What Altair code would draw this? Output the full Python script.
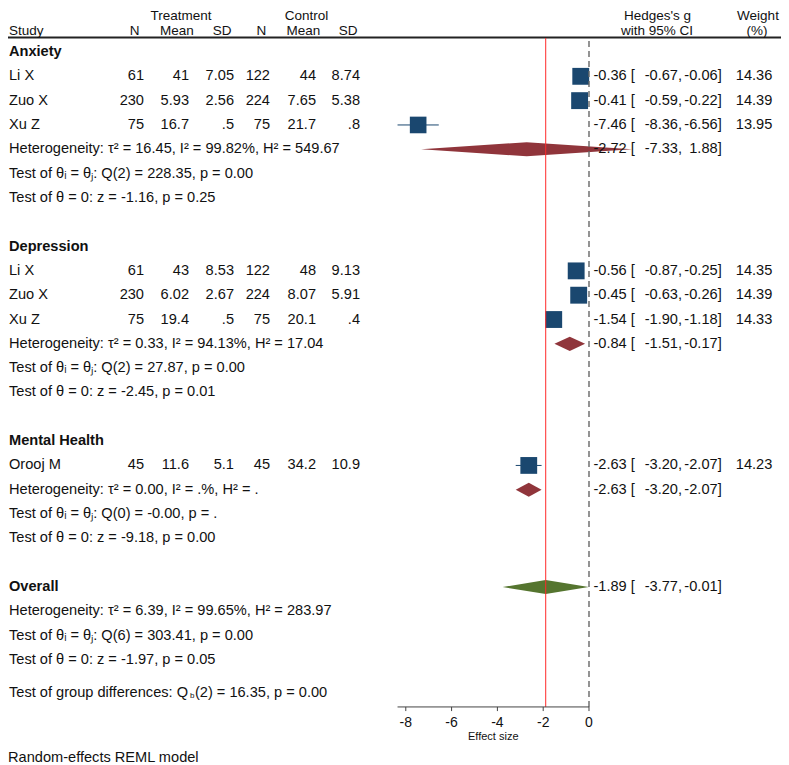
import altair as alt
import pandas as pd

FONT = "Liberation Sans"
FS = 14.6
TXT = "#111111"
NAVY = "#1a476f"
MAROON = "#90353b"
GREEN = "#55752f"
RED = "#ff2a2a"
W, H = 773, 757

# ---------------- data ----------------
study = ["Li X", "Zuo X", "Xu Z", "Li X", "Zuo X", "Xu Z", "Orooj M"]
study_row = [1, 2, 3, 9, 10, 11, 17]
t_n = ["61", "230", "75", "61", "230", "75", "45"]
t_mean = ["41", "5.93", "16.7", "43", "6.02", "19.4", "11.6"]
t_sd = ["7.05", "2.56", ".5", "8.53", "2.67", ".5", "5.1"]
c_n = ["122", "224", "75", "122", "224", "75", "45"]
c_mean = ["44", "7.65", "21.7", "48", "8.07", "20.1", "34.2"]
c_sd = ["8.74", "5.38", ".8", "9.13", "5.91", ".4", "10.9"]
es = [-0.36, -0.41, -7.46, -0.56, -0.45, -1.54, -2.63]
lo = [-0.67, -0.59, -8.36, -0.87, -0.63, -1.90, -3.20]
hi = [-0.06, -0.22, -6.56, -0.25, -0.26, -1.18, -2.07]
weight = [14.36, 14.39, 13.95, 14.35, 14.39, 14.33, 14.23]

pool_name = ["Anxiety", "Depression", "Mental Health", "Overall"]
pool_label_row = [0, 8, 16, 22]
pool_row = [4, 12, 18, 22]
pool_es = [-2.72, -0.84, -2.63, -1.89]
pool_lo = [-7.33, -1.51, -3.20, -3.77]
pool_hi = [1.88, -0.17, -2.07, -0.01]
pool_kind = ["sub", "sub", "sub", "overall"]

stat_text = [
    "Heterogeneity: τ² = 16.45, I² = 99.82%, H² = 549.67",
    "Test of θᵢ = θⱼ: Q(2) = 228.35, p = 0.00",
    "Test of θ = 0: z = -1.16, p = 0.25",
    "Heterogeneity: τ² = 0.33, I² = 94.13%, H² = 17.04",
    "Test of θᵢ = θⱼ: Q(2) = 27.87, p = 0.00",
    "Test of θ = 0: z = -2.45, p = 0.01",
    "Heterogeneity: τ² = 0.00, I² = .%, H² = .",
    "Test of θᵢ = θⱼ: Q(0) = -0.00, p = .",
    "Test of θ = 0: z = -9.18, p = 0.00",
    "Heterogeneity: τ² = 6.39, I² = 99.65%, H² = 283.97",
    "Test of θᵢ = θⱼ: Q(6) = 303.41, p = 0.00",
    "Test of θ = 0: z = -1.97, p = 0.05",
]
stat_row = [4, 5, 6, 12, 13, 14, 18, 19, 20, 23, 24, 25]

groupdiff_row = 26.35
groupdiff_a = "Test of group differences: Q"
groupdiff_b = "b"
groupdiff_c = "(2) = 16.35, p = 0.00"
footnote = "Random-effects REML model"

axis_ticks = [-8, -6, -4, -2, 0]
axis_title = "Effect size"
overall_es = -1.89

# Arial / Liberation Sans advance widths (em) for placing the subscript
AW = {" ": .278, "T": .611, "e": .556, "s": .5, "t": .278, "o": .556, "f": .278, "g": .556,
      "r": .333, "u": .556, "p": .556, "d": .556, "i": .222, "n": .556, "c": .5, ":": .278,
      "Q": .778, "b": .556}
def tw(s, fs):
    return sum(AW.get(ch, .556) for ch in s) * fs

# layout (rows)
ROW_PX = 24.32
ROW0 = 44.0
AXIS_ROW = 26.93
TICK_END = 27.10
TICKLAB_ROW = 27.59
TITLE_ROW = 28.17
TOP_ROW = -0.576
DASH_TOP = -0.45
FOOT_ROW = 29.03
HALF_H = 0.29

xs = alt.Scale(domain=[-25.37, 8.384], nice=False, zero=False)
ys = alt.Scale(domain=[-ROW0 / ROW_PX, (H - ROW0) / ROW_PX], reverse=True, nice=False, zero=False)

def X(f):
    return alt.X(f, type="quantitative", scale=xs, axis=None)

def Y(f):
    return alt.Y(f, type="quantitative", scale=ys, axis=None)

studies = pd.DataFrame(dict(study=study, row=study_row, t_n=t_n, t_mean=t_mean,
                            t_sd=t_sd, c_n=c_n, c_mean=c_mean, c_sd=c_sd,
                            es=es, lo=lo, hi=hi, w=weight))
studies["es_s"] = [f"{v:.2f}" for v in es]
studies["lo_s"] = [f"{v:.2f}," for v in lo]
studies["hi_s"] = [f"{v:.2f}]" for v in hi]
studies["w_s"] = [f"{v:.2f}" for v in weight]
studies["br"] = "["

pooled = pd.DataFrame(dict(name=pool_name, lrow=pool_label_row, row=pool_row,
                           es=pool_es, lo=pool_lo, hi=pool_hi, kind=pool_kind))
pooled["es_s"] = [f"{v:.2f}" for v in pool_es]
pooled["lo_s"] = [f"{v:.2f}," for v in pool_lo]
pooled["hi_s"] = [f"{v:.2f}]" for v in pool_hi]
pooled["br"] = "["

dia = []
for n, r, e, l, h, k in zip(pool_name, pool_row, pool_es, pool_lo, pool_hi, pool_kind):
    dia.append(dict(g=n, kind=k, x=l, y=r, y2=r))
    dia.append(dict(g=n, kind=k, x=e, y=r - HALF_H, y2=r + HALF_H))
    dia.append(dict(g=n, kind=k, x=h, y=r, y2=r))
dia = pd.DataFrame(dia)

stats = pd.DataFrame(dict(t=stat_text, row=stat_row))

base_s = alt.Chart(studies)
base_p = alt.Chart(pooled)

def txt(**kw):
    d = dict(font=FONT, fontSize=FS, color=TXT, baseline="middle")
    d.update(kw)
    return d

layers = []

# header rule
layers.append(alt.Chart(pd.DataFrame({"a": [0]})).mark_rule(color="#222222", strokeWidth=2).encode(
    x=alt.value(0), x2=alt.value(W), y=alt.value(29.5)))

# diamonds
layers.append(alt.Chart(dia).mark_area(orient="vertical", opacity=1).encode(
    x=X("x"), y=Y("y"), y2="y2", detail="g:N",
    color=alt.Color("kind:N", scale=alt.Scale(domain=["sub", "overall"], range=[MAROON, GREEN]), legend=None)))

# CI lines
layers.append(base_s.mark_rule(color=NAVY, strokeWidth=1).encode(x=X("lo"), x2="hi", y=Y("row")))
# squares
layers.append(base_s.mark_square(color=NAVY, opacity=1, filled=True).encode(
    x=X("es"), y=Y("row"),
    size=alt.Size("w:Q", scale=alt.Scale(domain=[0, 14.39], range=[0, 285]), legend=None)))

# reference lines
vline = pd.DataFrame({"v": [overall_es], "top": [TOP_ROW], "bot": [AXIS_ROW]})
layers.append(alt.Chart(vline).mark_rule(color=RED, strokeWidth=1).encode(
    x=X("v"), y=Y("top"), y2="bot"))
zline = pd.DataFrame({"v": [0], "top": [DASH_TOP], "bot": [AXIS_ROW]})
layers.append(alt.Chart(zline).mark_rule(color="#666666", strokeWidth=1.4, strokeDash=[6, 4]).encode(
    x=X("v"), y=Y("top"), y2="bot"))

# axis
axl = pd.DataFrame({"a": [min(lo)], "b": [0], "r": [AXIS_ROW]})
layers.append(alt.Chart(axl).mark_rule(color="#444444", strokeWidth=1).encode(x=X("a"), x2="b", y=Y("r")))
tk = pd.DataFrame({"t": axis_ticks, "r": [AXIS_ROW] * 5, "r2": [TICK_END] * 5,
                   "lab": [str(t) for t in axis_ticks], "lr": [TICKLAB_ROW] * 5})
layers.append(alt.Chart(tk).mark_rule(color="#444444", strokeWidth=1).encode(x=X("t"), y=Y("r"), y2="r2"))
layers.append(alt.Chart(tk).mark_text(**txt(align="center", fontSize=14)).encode(x=X("t"), y=Y("lr"), text="lab:N"))
ttl = pd.DataFrame({"x": [(min(lo) + 0) / 2], "r": [TITLE_ROW], "t": [axis_title]})
layers.append(alt.Chart(ttl).mark_text(**txt(align="center", fontSize=11)).encode(x=X("x"), y=Y("r"), text="t:N"))

# left text columns
layers.append(base_s.mark_text(**txt(align="left")).encode(x=alt.value(1), y=Y("row"), text="study:N"))
for col, px in [("t_n", 136), ("t_mean", 181), ("t_sd", 226), ("c_n", 262), ("c_mean", 308), ("c_sd", 352)]:
    layers.append(base_s.mark_text(**txt(align="right")).encode(x=alt.value(px), y=Y("row"), text=f"{col}:N"))

# right text columns
for src in (base_s, base_p):
    layers.append(src.mark_text(**txt(align="right")).encode(x=alt.value(618.7), y=Y("row"), text="es_s:N"))
    layers.append(src.mark_text(**txt(align="left")).encode(x=alt.value(622.7), y=Y("row"), text="br:N"))
    layers.append(src.mark_text(**txt(align="right")).encode(x=alt.value(674), y=Y("row"), text="lo_s:N"))
    layers.append(src.mark_text(**txt(align="right")).encode(x=alt.value(713.7), y=Y("row"), text="hi_s:N"))
layers.append(base_s.mark_text(**txt(align="right")).encode(x=alt.value(764.3), y=Y("row"), text="w_s:N"))

# group labels
layers.append(base_p.mark_text(**txt(align="left", fontWeight="bold")).encode(x=alt.value(1), y=Y("lrow"), text="name:N"))
# stats
layers.append(alt.Chart(stats).mark_text(**txt(align="left")).encode(x=alt.value(1), y=Y("row"), text="t:N"))
SUB_FS = 8
xa = 1
xb = xa + tw(groupdiff_a, FS)
xc = xb + tw(groupdiff_b, SUB_FS) + 0.5
gd = pd.DataFrame({"a": [groupdiff_a], "b": [groupdiff_b], "c": [groupdiff_c], "r": [groupdiff_row],
                   "rb": [groupdiff_row + 0.12]})
layers.append(alt.Chart(gd).mark_text(**txt(align="left")).encode(x=alt.value(xa), y=Y("r"), text="a:N"))
layers.append(alt.Chart(gd).mark_text(**txt(align="left", fontSize=SUB_FS)).encode(x=alt.value(xb), y=Y("rb"), text="b:N"))
layers.append(alt.Chart(gd).mark_text(**txt(align="left")).encode(x=alt.value(xc), y=Y("r"), text="c:N"))

# footnote
fn = pd.DataFrame({"t": [footnote], "r": [FOOT_ROW]})
layers.append(alt.Chart(fn).mark_text(**txt(align="left")).encode(x=alt.value(0), y=Y("r"), text="t:N"))

# header texts
HF = 13.5
R1, R2 = 11.5, 26.5
hdr = [
    ("Treatment", 173, R1, "center"), ("Control", 298.5, R1, "center"),
    ("Hedges's g", 649.5, R1, "center"), ("Weight", 750, R1, "center"),
    ("Study", 1, R2, "left"), ("N", 126.7, R2, "center"), ("Mean", 169, R2, "center"),
    ("SD", 214, R2, "center"), ("N", 253.3, R2, "center"), ("Mean", 295.3, R2, "center"),
    ("SD", 340, R2, "center"), ("with 95% CI", 649, R2, "center"), ("(%)", 749, R2, "center"),
]
for t, px, py, al in hdr:
    layers.append(alt.Chart(pd.DataFrame({"t": [t]})).mark_text(
        font=FONT, fontSize=HF, color=TXT, baseline="alphabetic", align=al).encode(
        x=alt.value(px), y=alt.value(py), text="t:N"))

chart = alt.layer(*layers).properties(
    width=W, height=H, padding=0, autosize=alt.AutoSizeParams(type="none")
).configure_view(stroke=None)

chart.save("out.html", embed_options={"renderer": "svg", "actions": False})
